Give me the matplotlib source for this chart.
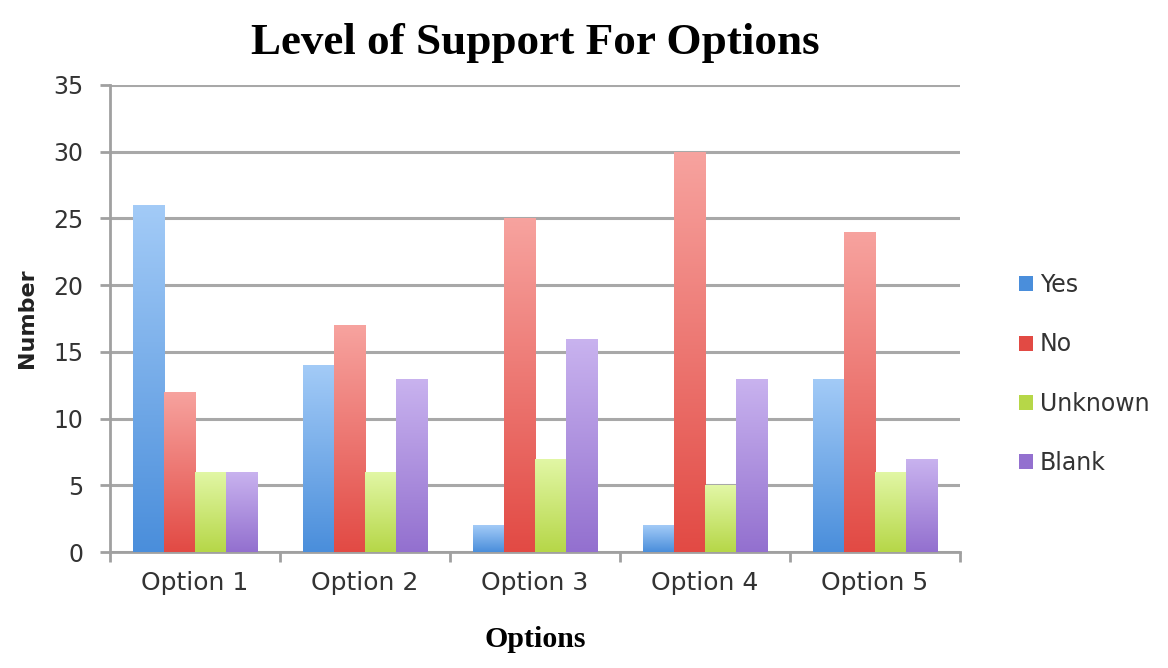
import matplotlib.pyplot as plt
import matplotlib.colors as mcolors
import numpy as np
from matplotlib.patches import Patch

# Data
options = ['Option 1', 'Option 2', 'Option 3', 'Option 4', 'Option 5']
series = ['Yes', 'No', 'Unknown', 'Blank']
yes = [26, 14, 2, 2, 13]
no = [12, 17, 25, 30, 24]
unknown = [6, 6, 7, 5, 6]
blank = [6, 13, 16, 13, 7]

# (bottom colour, top colour) for the gradient fill
colors = [('#4a8edb', '#a3cbf7'),
          ('#e24a44', '#f7a39f'),
          ('#b6d748', '#e2f7a6'),
          ('#9370cf', '#c9b3ef')]

fig = plt.figure(figsize=(11.68, 6.68), dpi=100)
ax = fig.add_axes([110 / 1168, 116 / 668, 850 / 1168, 467 / 668])

x = np.arange(len(options))
width = 0.1825
values = [yes, no, unknown, blank]
grad = np.linspace(0, 1, 256).reshape(-1, 1)

for i, (vals, (c0, c1)) in enumerate(zip(values, colors)):
    offs = (i - 1.5) * width
    bars = ax.bar(x + offs, vals, width, color='none', edgecolor='none', zorder=3)
    cmap = mcolors.LinearSegmentedColormap.from_list('g%d' % i, [c0, c1])
    for b in bars:
        x0, y0 = b.get_x(), b.get_y()
        w, h = b.get_width(), b.get_height()
        im = ax.imshow(grad, cmap=cmap, origin='lower', aspect='auto',
                       extent=[x0, x0 + w, y0, y0 + h], zorder=3)
        im.set_clip_path(b)

ax.set_xlim(-0.5, len(options) - 0.5)
ax.set_ylim(0, 35)
ax.set_yticks(range(0, 36, 5))
ax.set_xticks(x)
ax.set_xticklabels(options)
ax.set_xticks(np.arange(-0.5, len(options), 1), minor=True)

ax.yaxis.grid(True, color='#a8a8a8', linewidth=2.2, zorder=0)
ax.set_axisbelow(True)
for s in ['top', 'right']:
    ax.spines[s].set_visible(False)
for s in ['left', 'bottom']:
    ax.spines[s].set_color('#a0a0a0')
    ax.spines[s].set_linewidth(2)

ax.tick_params(axis='y', length=7, width=2, color='#a0a0a0', labelsize=17,
               pad=12, labelcolor='#333333')
ax.tick_params(axis='x', which='major', length=0, labelsize=18, pad=14,
               labelcolor='#333333')
ax.tick_params(axis='x', which='minor', length=7, width=2, color='#a0a0a0')

ax.set_title('Level of Support For Options', family='Liberation Serif',
             fontweight='bold', fontsize=32.5, pad=22)
ax.set_xlabel('Options', family='Liberation Serif', fontweight='bold',
              fontsize=21.5, labelpad=22)
ax.set_ylabel('Number', fontweight='bold', fontsize=16, labelpad=12,
              color='#222222')

handles = [Patch(facecolor=c0, label=s) for s, (c0, c1) in zip(series, colors)]
ax.legend(handles=handles, loc='center left', bbox_to_anchor=(1.044, 0.381),
          bbox_transform=ax.transAxes, frameon=False, fontsize=17,
          handlelength=0.6, handleheight=0.6, handletextpad=0.3,
          labelspacing=1.5, labelcolor='#333333')

fig.savefig('out.png', dpi=100)
